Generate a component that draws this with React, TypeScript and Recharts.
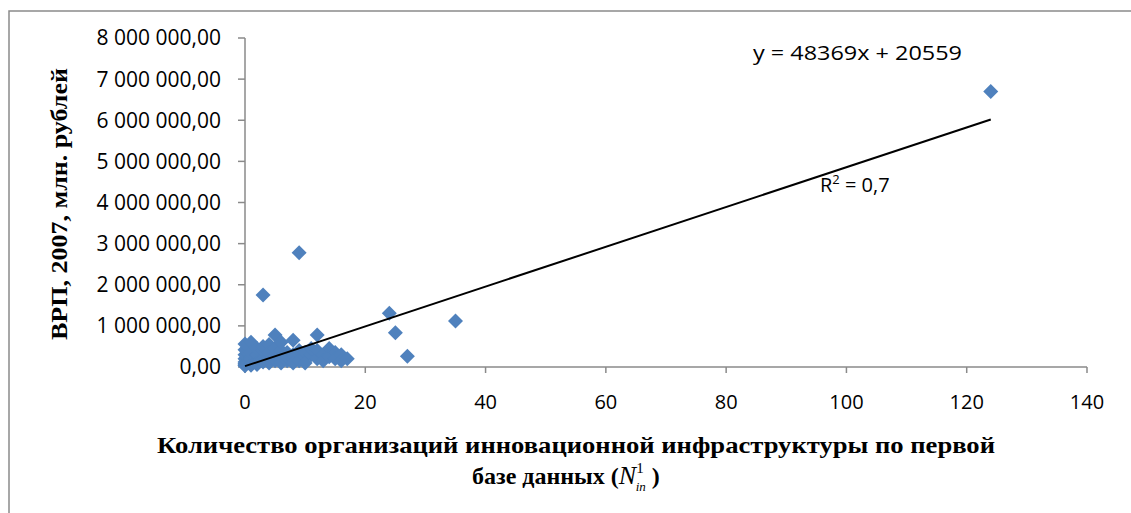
import React from "react";
import { ScatterChart, Scatter, XAxis, YAxis } from "recharts";

// число организаций инновационной инфраструктуры по регионам
const orgCounts = [
  0, 0, 0, 0, 0, 0, 0, 0,
  1, 1, 1, 1, 1, 1,
  2, 2, 2, 2, 2,
  3, 3, 3, 3, 3,
  4, 4, 4, 4,
  5, 5, 5, 5, 5,
  6, 6, 6, 6,
  7, 7, 7,
  8, 8, 8, 8,
  9, 9, 9,
  10, 10, 10,
  11, 11,
  12, 12, 12,
  13, 13,
  14, 14,
  15, 15,
  16, 16,
  17,
  24, 25, 27, 35, 124,
];

// ВРП 2007, млн. рублей
const grpValues = [
  50000, 120000, 200000, 300000, 420000, 560000, 80000, 30000,
  100000, 250000, 180000, 600000, 40000, 350000,
  150000, 300000, 90000, 450000, 60000,
  1750000, 200000, 400000, 120000, 500000,
  250000, 100000, 550000, 350000,
  780000, 300000, 150000, 450000, 200000,
  200000, 400000, 100000, 600000,
  350000, 150000, 250000,
  650000, 200000, 300000, 100000,
  2780000, 400000, 150000,
  250000, 350000, 100000,
  300000, 450000,
  780000, 200000, 400000,
  300000, 150000,
  450000, 250000,
  350000, 200000,
  300000, 150000,
  200000,
  1310000, 830000, 260000, 1120000, 6700000,
];

const xTicks = [0, 20, 40, 60, 80, 100, 120, 140];
const yTicks = [0, 1000000, 2000000, 3000000, 4000000, 5000000, 6000000, 7000000, 8000000];

// линия тренда: y = 48369x + 20559
const trendSlope = 48369;
const trendIntercept = 20559;
const trendRange = [0, 124];

const points = orgCounts.map((x, i) => ({ x, y: grpValues[i] }));
const trendPoints = trendRange.map((x) => ({ x, y: trendSlope * x + trendIntercept }));

const fmtRub = (v: number) =>
  Math.round(v)
    .toString()
    .replace(/\B(?=(\d{3})+(?!\d))/g, " ") + ",00";

function Diamond(props: any) {
  const { cx, cy } = props;
  if (cx == null || cy == null) return null;
  const r = 7.5;
  return (
    <path
      d={`M${cx},${cy - r}L${cx + r},${cy}L${cx},${cy + r}L${cx - r},${cy}Z`}
      fill="#4F81BD"
    />
  );
}

const NoDot = () => <g />;

const axisColor = "#8a8a8a";
const sans = "'Open Sans', sans-serif";
const serif = "'Liberation Serif', 'Times New Roman', serif";

export default function App() {
  return (
    <div
      style={{
        position: "absolute",
        left: 0,
        top: 0,
        width: 1131,
        height: 513,
        background: "#fff",
        overflow: "hidden",
      }}
    >
      <ScatterChart
        width={1131}
        height={513}
        margin={{ top: 38, right: 44, bottom: 116, left: 80 }}
      >
        <XAxis
          type="number"
          dataKey="x"
          domain={[0, 140]}
          ticks={xTicks}
          interval={0}
          stroke={axisColor}
          strokeWidth={1.5}
          tickSize={6}
          tickMargin={22}
          fontSize={20}
          tick={{ fill: "#000", fontSize: 20, fontFamily: sans }}
        />
        <YAxis
          type="number"
          dataKey="y"
          domain={[0, 8000000]}
          ticks={yTicks}
          interval={0}
          width={165}
          stroke={axisColor}
          strokeWidth={1.5}
          tickSize={7}
          tickMargin={17}
          tickFormatter={fmtRub}
          tick={{ fill: "#000", fontSize: 21, fontFamily: sans }}
        />
        <Scatter data={points} shape={<Diamond />} isAnimationActive={false} />
        <Scatter
          data={trendPoints}
          line={{ stroke: "#000", strokeWidth: 2 }}
          shape={<NoDot />}
          isAnimationActive={false}
        />
      </ScatterChart>
      <svg
        width={1131}
        height={513}
        style={{ position: "absolute", left: 0, top: 0, pointerEvents: "none" }}
      >
        <path d="M9,520 L9,11 L1140,11" fill="none" stroke="#8a8a8a" strokeWidth={1.5} />
        <text
          x={753}
          y={60}
          fontFamily={sans}
          fontSize={20}
          fill="#000"
          textLength={209}
          lengthAdjust="spacingAndGlyphs"
        >
          y = 48369x + 20559
        </text>
        <text x={820} y={192} fontFamily={sans} fontSize={20} fill="#000">
          R<tspan dy={-8} fontSize={13}>2</tspan>
          <tspan dy={8}> = 0,7</tspan>
        </text>
        <text
          transform="translate(67,204) rotate(-90)"
          textAnchor="middle"
          fontFamily={serif}
          fontWeight="bold"
          fontSize={23}
          fill="#000"
          textLength={272}
          lengthAdjust="spacingAndGlyphs"
        >
          ВРП, 2007, млн. рублей
        </text>
        <text
          x={157}
          y={453}
          fontFamily={serif}
          fontWeight="bold"
          fontSize={24}
          fill="#000"
          textLength={838}
          lengthAdjust="spacingAndGlyphs"
        >
          Количество организаций инновационной инфраструктуры по первой
        </text>
        <text x={472} y={484} fontFamily={serif} fontWeight="bold" fontSize={24} fill="#000">
          базе данных (
          <tspan fontStyle="italic" fontWeight="normal" fontSize={26}>N</tspan>
          <tspan dy={-11} fontSize={15} fontWeight="normal">1</tspan>
          <tspan dx={-8} dy={18} fontSize={13} fontStyle="italic" fontWeight="normal">in</tspan>
          <tspan dy={-7}> )</tspan>
        </text>
      </svg>
    </div>
  );
}
